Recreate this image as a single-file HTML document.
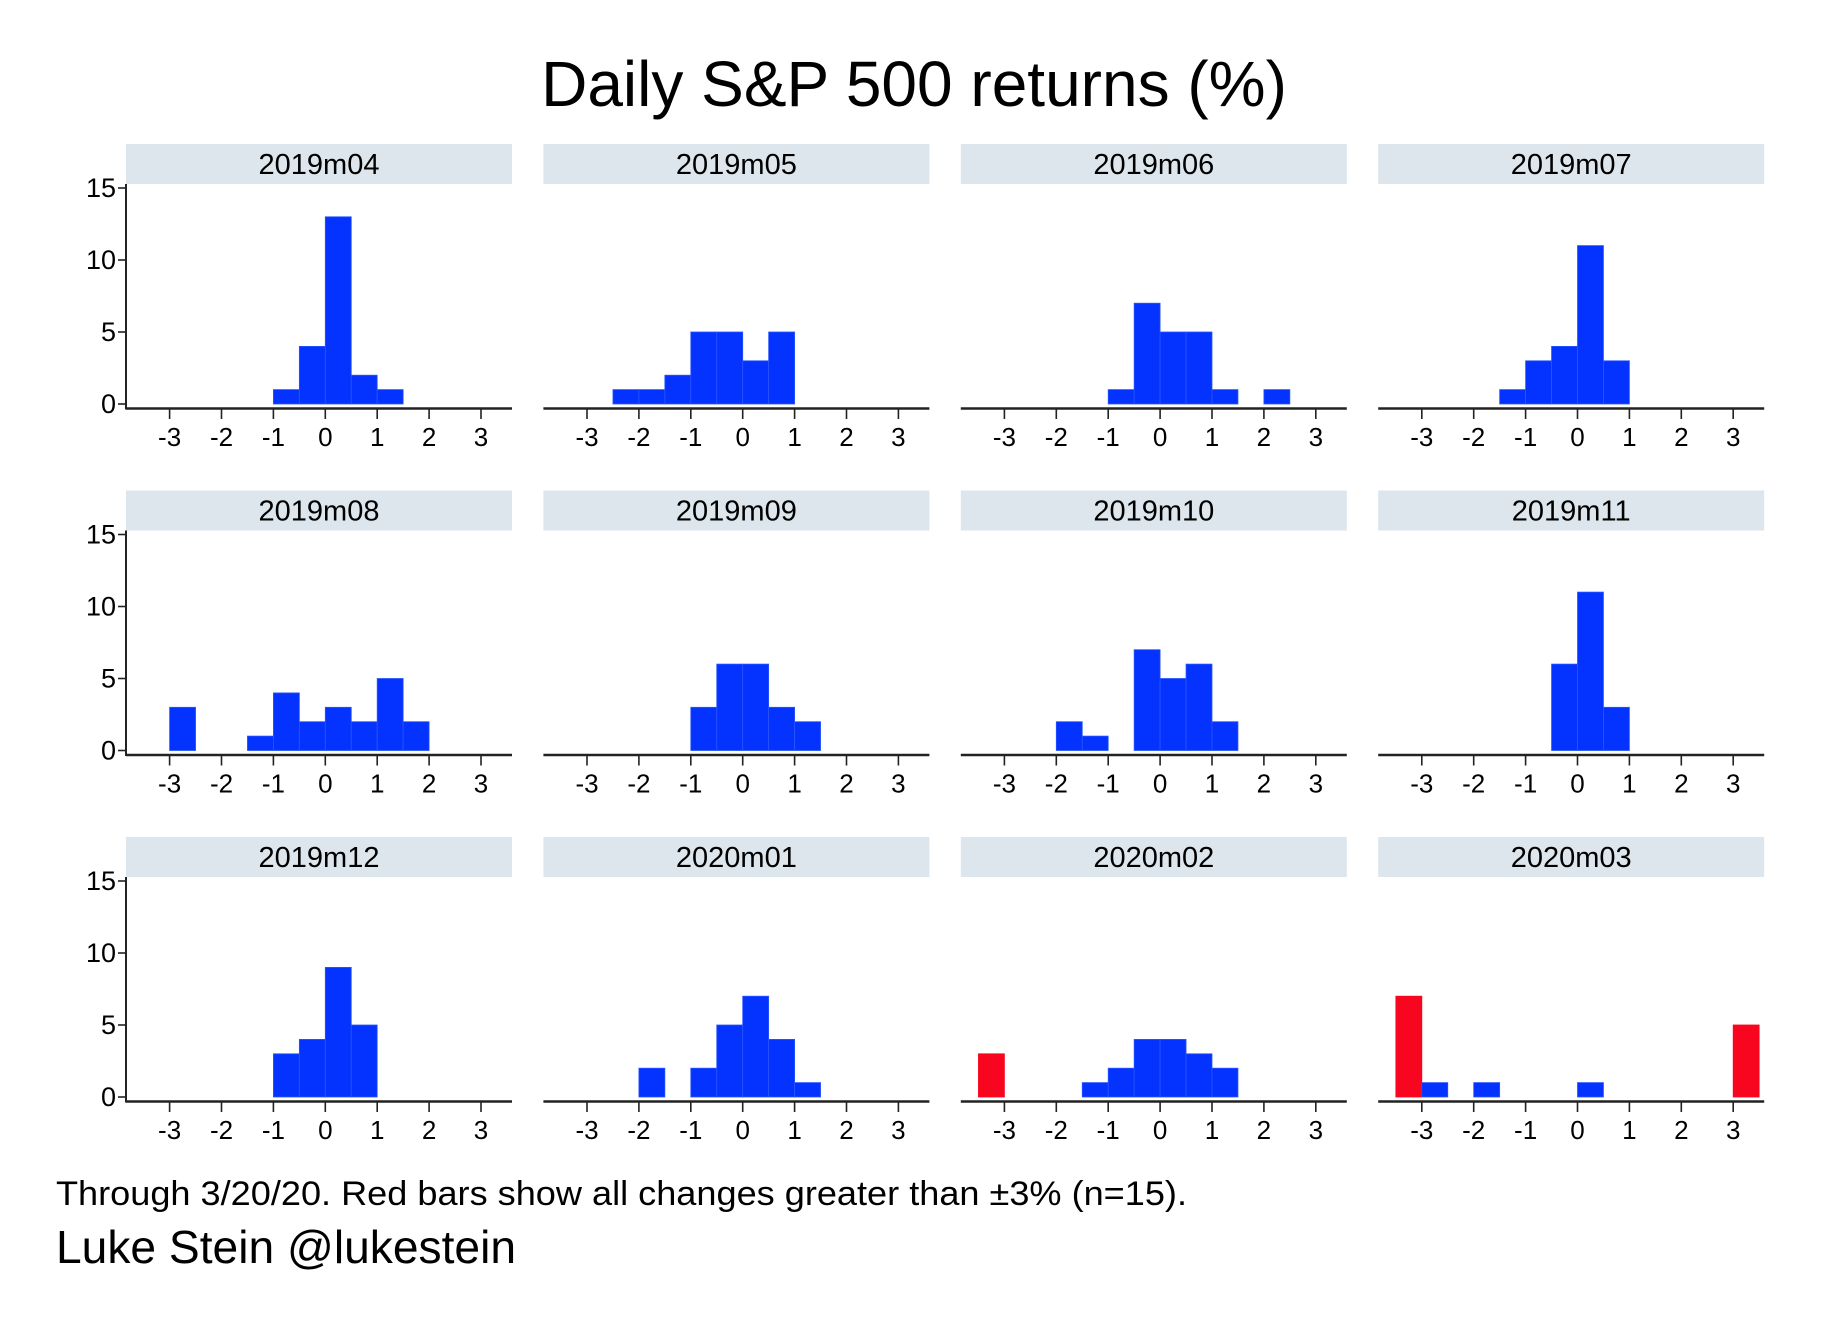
<!DOCTYPE html>
<html><head><meta charset="utf-8"><style>
html,body{margin:0;padding:0;background:#fff;}
svg{display:block;font-family:"Liberation Sans",Arial,sans-serif;}
</style></head><body>
<svg id="chart" width="1828" height="1330" viewBox="0 0 1828 1330" xmlns="http://www.w3.org/2000/svg">
<rect width="1828" height="1330" fill="#fff"/>
<text x="914" y="106" font-size="64" text-anchor="middle" fill="#000">Daily S&amp;P 500 returns (%)</text>
<g id="panels"></g>
<text x="56" y="1205" font-size="34" textLength="1131" lengthAdjust="spacingAndGlyphs" fill="#000">Through 3/20/20. Red bars show all changes greater than ±3% (n=15).</text>
<text x="56" y="1263" font-size="46" textLength="460" lengthAdjust="spacingAndGlyphs" fill="#000">Luke Stein @lukestein</text>
</svg>
<script>
const months = ["2019m04","2019m05","2019m06","2019m07","2019m08","2019m09","2019m10","2019m11","2019m12","2020m01","2020m02","2020m03"];
// each bin: [left edge, count]
const m2019_04 = [[-1,1],[-0.5,4],[0,13],[0.5,2],[1,1]];
const m2019_05 = [[-2.5,1],[-2,1],[-1.5,2],[-1,5],[-0.5,5],[0,3],[0.5,5]];
const m2019_06 = [[-1,1],[-0.5,7],[0,5],[0.5,5],[1,1],[2,1]];
const m2019_07 = [[-1.5,1],[-1,3],[-0.5,4],[0,11],[0.5,3]];
const m2019_08 = [[-3,3],[-1.5,1],[-1,4],[-0.5,2],[0,3],[0.5,2],[1,5],[1.5,2]];
const m2019_09 = [[-1,3],[-0.5,6],[0,6],[0.5,3],[1,2]];
const m2019_10 = [[-2,2],[-1.5,1],[-0.5,7],[0,5],[0.5,6],[1,2]];
const m2019_11 = [[-0.5,6],[0,11],[0.5,3]];
const m2019_12 = [[-1,3],[-0.5,4],[0,9],[0.5,5]];
const m2020_01 = [[-2,2],[-1,2],[-0.5,5],[0,7],[0.5,4],[1,1]];
const m2020_02 = [[-3.5,3],[-1.5,1],[-1,2],[-0.5,4],[0,4],[0.5,3],[1,2]];
const m2020_03 = [[-3.5,7],[-3,1],[-2,1],[0,1],[3,5]];
const series = [m2019_04,m2019_05,m2019_06,m2019_07,m2019_08,m2019_09,m2019_10,m2019_11,m2019_12,m2020_01,m2020_02,m2020_03];
const xTicks = [-3,-2,-1,0,1,2,3];
const yTicks = [0,5,10,15];
const binWidth = 0.5;

const NS = "http://www.w3.org/2000/svg";
const root = document.getElementById("panels");
function mk(tag, attrs, parent){
  const e = document.createElementNS(NS, tag);
  for (const k in attrs) e.setAttribute(k, attrs[k]);
  parent.appendChild(e); return e;
}
months.forEach((m, i) => {
  const c = i % 4, r = Math.floor(i / 4);
  const px = 126 + c * 417.4, py = 144 + r * 346.5;
  const xs = v => px + 43.6 + (v + 3) * 51.9;
  const ys = v => py + 260 - v * 14.4;
  const g = mk("g", {}, root);
  
  
  const hdr = mk("rect", {x: px, y: py, width: 386, height: 40, fill: "#dce6ec"}, g);
  
  
  const ht = mk("text", {x: px + 193, y: py + 30, "font-size": 29, "text-anchor": "middle", fill: "#000"}, g);
  ht.textContent = m;
  
  
  series[i].forEach(([edge, n]) => {
    const red = edge < -3 || edge >= 3;
    const b = mk("rect", {x: xs(edge), y: ys(n), width: xs(edge + binWidth) - xs(edge), height: ys(0) - ys(n),
      fill: red ? "#f8061f" : "#0433ff", stroke: red ? "#f8061f" : "#2a55ff", "stroke-width": 0.8}, g);
    
    
  });
  const xa = mk("line", {x1: px, x2: px + 386, y1: py + 264.5, y2: py + 264.5, stroke: "#222", "stroke-width": 2.5}, g);
  
  
  xTicks.forEach(t => {
    mk("line", {x1: xs(t), x2: xs(t), y1: py + 264, y2: py + 275, stroke: "#222", "stroke-width": 1.6}, g);
    const tl = mk("text", {x: xs(t), y: py + 302, "font-size": 26, "text-anchor": "middle", fill: "#000"}, g);
    tl.textContent = t;
    
    
  });
  if (c === 0) {
    const ya = mk("line", {x1: px, x2: px, y1: py + 40, y2: py + 265.5, stroke: "#222", "stroke-width": 2}, g);
    
    
    yTicks.forEach(t => {
      mk("line", {x1: px - 8, x2: px, y1: ys(t), y2: ys(t), stroke: "#222", "stroke-width": 1.6}, g);
      const yl = mk("text", {x: px - 10, y: ys(t) + 9, "font-size": 27, "text-anchor": "end", fill: "#000"}, g);
      yl.textContent = t;
      
      
    });
  }
});
</script>
</body></html>
